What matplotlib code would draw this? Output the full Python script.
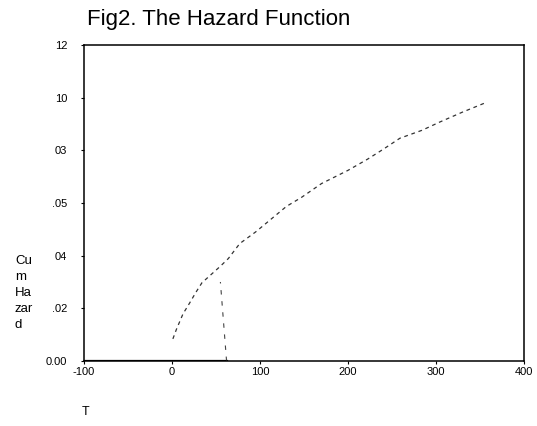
import matplotlib
matplotlib.use("Agg")
import matplotlib.pyplot as plt

plt.rcParams['font.family'] = ['Liberation Sans', 'DejaVu Sans']

# Cumulative hazard curve
t_vals = [1, 5, 12.5, 20, 27, 34, 45, 55, 64, 77, 95, 108, 130, 147, 170, 200, 222, 240, 259, 284, 304, 330, 355]
h_vals = [0.0084, 0.012, 0.0179, 0.022, 0.026, 0.0297, 0.033, 0.036, 0.0389, 0.0446, 0.049, 0.0526, 0.0587,
          0.0621, 0.0674, 0.0724, 0.0766, 0.0804, 0.0846, 0.0876, 0.0907, 0.0945, 0.0979]

# Baseline segment and drop line
base_t = [-100, 62]
base_h = [0.0, 0.0]
drop_t = [62, 55]
drop_h = [0.0, 0.030]

x_ticks = [-100, 0, 100, 200, 300, 400]
x_labels = ['-100', '0', '100', '200', '300', '400']
y_ticks = [0.00, 0.02, 0.04, 0.06, 0.08, 0.10, 0.12]
y_labels = ['0.00', '.02', '04', '.05', '03', '10', '12']

W, H = 537, 426
fig = plt.figure(figsize=(W / 100, H / 100), dpi=100)
left, right, top, bottom = 84, 524, 45, 361
ax = fig.add_axes([left / W, 1 - bottom / H, (right - left) / W, (bottom - top) / H])

ax.plot(t_vals, h_vals, color='#333333', lw=0.9, linestyle=(0, (3, 3)))
ax.plot(base_t, base_h, color='black', lw=1.6)
ax.plot(drop_t, drop_h, color='#444444', lw=0.8, linestyle=(0, (4, 6)))

ax.set_xlim(-100, 400)
ax.set_ylim(0, 0.12)
ax.set_xticks(x_ticks)
ax.set_xticklabels(x_labels, fontsize=8)
ax.set_yticks(y_ticks)
ax.set_yticklabels(y_labels, fontsize=8)
ax.tick_params(axis='x', direction='out', length=2, width=0.8, pad=2)
ax.tick_params(axis='y', direction='out', length=2, width=0.8, pad=10)
for s in ax.spines.values():
    s.set_linewidth(1.1)
    s.set_color('black')

fig.text(87 / W, 1 - 20 / H, 'Fig2. The Hazard Function', fontsize=16, ha='left', va='center')
fig.text(15 / W, 1 - 293 / H, 'Cu\nm\nHa\nzar\nd', fontsize=9.5, ha='left', va='center', linespacing=1.45)
fig.text(86 / W, 1 - 412 / H, 'T', fontsize=9, ha='center', va='center')

fig.savefig('out.png', dpi=100)
